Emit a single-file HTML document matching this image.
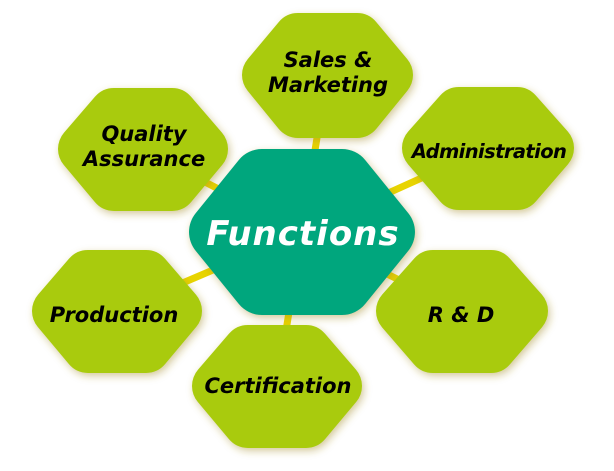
<!DOCTYPE html>
<html><head><style>html,body{margin:0;padding:0;background:#fff}svg{display:block}
text{font-family:"DejaVu Sans","Liberation Sans",sans-serif;font-weight:bold;font-style:italic;text-anchor:middle}</style></head>
<body>
<svg width="614" height="471" viewBox="0 0 614 471">
<defs><filter id="s2" x="-20%" y="-20%" width="140%" height="140%"><feDropShadow dx="2" dy="3" stdDeviation="4" flood-color="#a08a20" flood-opacity="0.45"/></filter></defs>
<g stroke="#e8d400" stroke-width="7">
<line x1="302" y1="232" x2="327" y2="75"/><line x1="302" y1="232" x2="488" y2="148"/>
<line x1="302" y1="232" x2="143" y2="150"/><line x1="302" y1="232" x2="117" y2="311"/>
<line x1="302" y1="232" x2="462" y2="311"/><line x1="302" y1="232" x2="277" y2="386"/>
</g>
<g stroke-linejoin="round" stroke-width="50" fill="#a9cb0a" stroke="#a9cb0a" filter="url(#s2)">
<polygon points="267,75 298,38 357,38 388,75 357,113 298,113"/>
<polygon points="427,148 459,112 517,112 549,148 517,185 459,185"/>
<polygon points="83,149 114,113 172,113 203,149 172,186 114,186"/>
<polygon points="57,311 88,275 146,275 177,311 146,348 88,348"/>
<polygon points="401,311 433,275 491,275 523,311 491,348 433,348"/>
<polygon points="217,386 248,350 306,350 337,386 306,423 248,423"/>
<polygon points="219,232 262,179 342,179 385,232 342,285 262,285" stroke-width="60" fill="#00a67d" stroke="#00a67d"/>
</g>
<g font-size="21" fill="#000">
<text x="328" y="67">Sales &amp;</text><text x="328" y="92">Marketing</text>
<text x="144" y="141">Quality</text><text x="144" y="166">Assurance</text>
<text x="489" y="158" font-size="19.5" letter-spacing="-0.6">Administration</text>
<text x="114" y="322">Production</text>
<text x="461" y="322">R &amp; D</text>
<text x="278" y="393">Certification</text>
</g>
<text x="303" y="245" font-size="34" fill="#fff" letter-spacing="1">Functions</text>
</svg>
</body></html>
